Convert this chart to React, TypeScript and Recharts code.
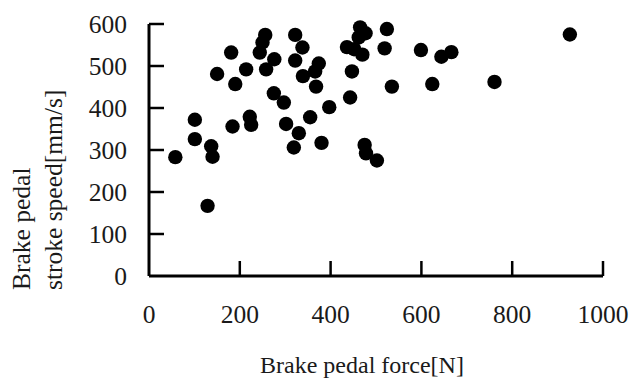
import { ScatterChart, Scatter, XAxis, YAxis, Label } from 'recharts';

// brake pedal force [N]
const force = [
  58, 101, 101, 137, 140, 129, 150, 181, 190, 184,
  214, 222, 225, 244, 250, 256, 258, 276, 275, 297,
  302, 330, 319, 322, 338, 322, 339, 374, 366, 368,
  355, 397, 380, 447, 443, 436, 452, 465, 477, 462,
  470, 475, 478, 502, 524, 519, 535, 599, 644, 666,
  624, 761, 927,
];

// brake pedal stroke speed [mm/s]
const speed = [
  283, 372, 326, 309, 284, 167, 481, 532, 457, 356,
  492, 379, 360, 532, 556, 574, 492, 516, 435, 413,
  362, 340, 306, 574, 544, 513, 476, 506, 487, 451,
  378, 402, 317, 487, 425, 545, 540, 592, 578, 568,
  527, 312, 292, 275, 588, 542, 451, 538, 522, 533,
  457, 462, 575,
];

const xTicks = [0, 200, 400, 600, 800, 1000];
const yTicks = [0, 100, 200, 300, 400, 500, 600];

const data = force.map((f, i) => ({ force: f, speed: speed[i] }));

const FONT = '"Liberation Serif", "Times New Roman", serif';
const FS = 25.5;
const TICK_LEN = 15;

const Dot = ({ cx, cy }: any) => <circle cx={cx} cy={cy} r={7.2} fill="#000" />;

// ticks point inward, labels sit outside
const XTick = ({ x, y, payload }: any) => (
  <g>
    {payload.value !== 0 && (
      <line x1={x} y1={y} x2={x} y2={y - TICK_LEN} stroke="#000" strokeWidth={2.5} />
    )}
    <text x={x} y={y + 47} textAnchor="middle" fontFamily={FONT} fontSize={FS} fill="#1a1a1a">
      {payload.value}
    </text>
  </g>
);

const YTick = ({ x, y, payload }: any) => (
  <g>
    {payload.value !== 0 && (
      <line x1={x} y1={y} x2={x + TICK_LEN} y2={y} stroke="#000" strokeWidth={2.5} />
    )}
    <text x={x - 22} y={y} textAnchor="end" dominantBaseline="central" fontFamily={FONT} fontSize={FS} fill="#1a1a1a">
      {payload.value}
    </text>
  </g>
);

const XTitle = ({ viewBox }: any) => (
  <text
    x={viewBox.x + viewBox.width / 2 - 14}
    y={viewBox.y + 97}
    textAnchor="middle"
    fontFamily={FONT}
    fontSize={24}
    fill="#1a1a1a"
  >
    Brake pedal force[N]
  </text>
);

const YTitle = () => (
  <g fontFamily={FONT} fontSize={FS} fill="#1a1a1a">
    <text transform="translate(21,290) rotate(-90)" textAnchor="start" dominantBaseline="central">
      Brake pedal
    </text>
    <text transform="translate(53,290) rotate(-90)" textAnchor="start" dominantBaseline="central">
      stroke speed[mm/s]
    </text>
  </g>
);

export default function App() {
  return (
    <div style={{ position: 'absolute', left: 0, top: 0, width: 633, height: 378, background: '#fff' }}>
      <ScatterChart width={633} height={378} margin={{ top: 24, right: 30, bottom: 0, left: 0 }}>
        <XAxis
          type="number"
          dataKey="force"
          domain={[0, 1000]}
          ticks={xTicks}
          interval={0}
          height={102}
          tickSize={0}
          tickMargin={0}
          tickLine={false}
          axisLine={{ stroke: '#000', strokeWidth: 3 }}
          tick={<XTick />}
        >
          <Label content={<XTitle />} />
        </XAxis>
        <YAxis
          type="number"
          dataKey="speed"
          domain={[0, 600]}
          ticks={yTicks}
          interval={0}
          width={149}
          tickSize={0}
          tickMargin={0}
          tickLine={false}
          axisLine={{ stroke: '#000', strokeWidth: 3 }}
          tick={<YTick />}
        >
          <Label content={<YTitle />} />
        </YAxis>
        <Scatter data={data} fill="#000" shape={<Dot />} isAnimationActive={false} />
      </ScatterChart>
    </div>
  );
}
